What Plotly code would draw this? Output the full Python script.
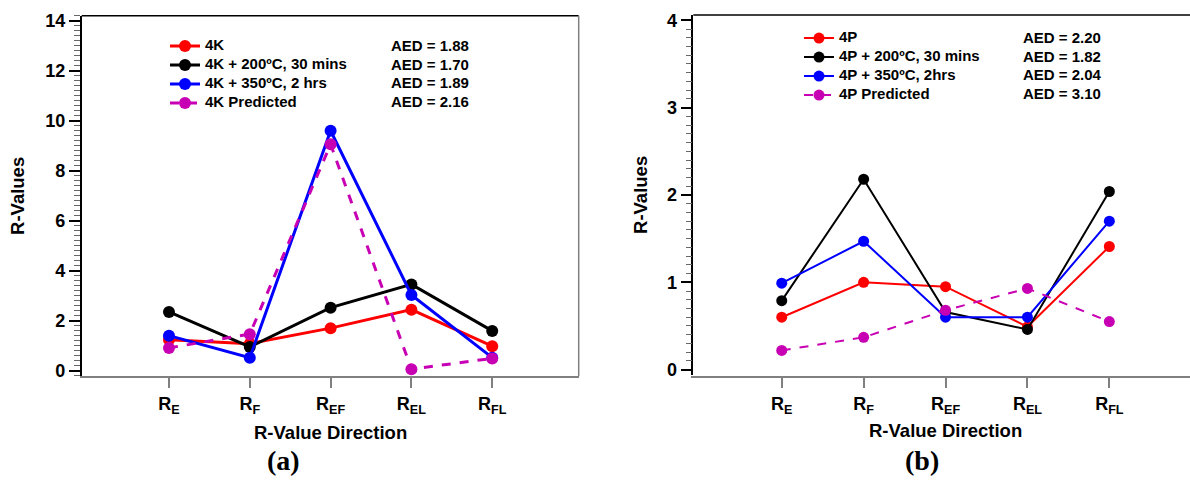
import plotly.graph_objects as go

categories = ["R<sub>E</sub>", "R<sub>F</sub>", "R<sub>EF</sub>", "R<sub>EL</sub>", "R<sub>FL</sub>"]
tick_text = ["<b>R<sub>E</sub></b>", "<b>R<sub>F</sub></b>", "<b>R<sub>EF</sub></b>",
             "<b>R<sub>EL</sub></b>", "<b>R<sub>FL</sub></b>"]

# Panel (a)
names_a = ["4K", "4K + 200ºC, 30 mins", "4K + 350ºC, 2 hrs", "4K Predicted"]
aed_a = ["AED = 1.88", "AED = 1.70", "AED = 1.89", "AED = 2.16"]
k_4k = [1.24, 1.08, 1.70, 2.44, 0.98]
k_200 = [2.35, 0.95, 2.52, 3.45, 1.59]
k_350 = [1.40, 0.52, 9.60, 3.03, 0.52]
k_pred = [0.91, 1.46, 9.06, 0.06, 0.49]
yticks_a = [0, 2, 4, 6, 8, 10, 12, 14]

# Panel (b)
names_b = ["4P", "4P + 200ºC, 30 mins", "4P + 350ºC, 2hrs", "4P Predicted"]
aed_b = ["AED = 2.20", "AED = 1.82", "AED = 2.04", "AED = 3.10"]
p_4p = [0.60, 1.00, 0.95, 0.49, 1.41]
p_200 = [0.79, 2.18, 0.66, 0.46, 2.04]
p_350 = [0.99, 1.47, 0.60, 0.60, 1.70]
p_pred = [0.22, 0.37, 0.68, 0.93, 0.55]
yticks_b = [0, 1, 2, 3, 4]

colors = ["#FF0000", "#000000", "#0000FF", "#C800B4"]
FONT = "Arial, Liberation Sans, sans-serif"
LEG_PX = 15

fig = go.Figure()

def add_panel(series, names, xa, ya, legend, width, msize):
    for i, (vals, nm) in enumerate(zip(series, names)):
        dash = "dash" if i == 3 else "solid"
        fig.add_trace(go.Scatter(
            x=categories, y=vals,
            name=f'<span style="font-size:{LEG_PX}px"><b>{nm}</b></span>',
            mode="lines+markers",
            line=dict(color=colors[i], width=width, dash=dash),
            marker=dict(color=colors[i], size=msize),
            xaxis=xa, yaxis=ya, legend=legend, showlegend=True,
        ))

add_panel([k_4k, k_200, k_350, k_pred], names_a, "x", "y", "legend", 3, 12)
add_panel([p_4p, p_200, p_350, p_pred], names_b, "x2", "y2", "legend2", 2, 11)

W, H = 1190, 482
tickfont = dict(family=FONT, size=18, color="black")

def xax(domain, rng):
    return dict(domain=domain, type="category", range=rng, showgrid=False, zeroline=False,
                showline=True, linecolor="#808080", linewidth=2, ticks="outside",
                ticklen=10, tickwidth=2, tickcolor="#808080", tickfont=tickfont,
                tickmode="array", tickvals=categories, ticktext=tick_text, mirror=False)

def yax(domain, rng, tvals, minor_dtick, anchor):
    return dict(domain=domain, range=rng, tickmode="array", tickvals=tvals,
                ticktext=[f"<b>{v}</b>" for v in tvals],
                showgrid=False, zeroline=False,
                showline=True, linecolor="black", linewidth=1.5, ticks="outside",
                ticklen=11, tickwidth=1.5, tickcolor="black", tickfont=tickfont,
                anchor=anchor,
                minor=dict(dtick=minor_dtick, tick0=0, ticks="outside", ticklen=6,
                           tickcolor="#666666", tickwidth=1, showgrid=False))

legfont = dict(family=FONT, size=10, color="black")
fig.update_layout(
    width=W, height=H,
    margin=dict(l=0, r=0, t=0, b=0),
    paper_bgcolor="white", plot_bgcolor="white",
    xaxis=xax([81.7 / W, 578.7 / W], [-1.08, 5.07]),
    yaxis=yax([1 - 379 / H, 1 - 11 / H], [-0.22, 14.2], yticks_a, 0.2, "x"),
    xaxis2=xax([693.3 / W, 1.0], [-1.08, 4.985]),
    yaxis2=yax([1 - 377.7 / H, 1 - 10.3 / H], [-0.06, 4.06], yticks_b, 0.1, "x2"),
    legend=dict(x=165 / W, y=1 - 27 / H, xanchor="left", yanchor="top",
                bgcolor="rgba(0,0,0,0)", borderwidth=0, itemwidth=30, font=legfont),
    legend2=dict(x=799 / W, y=1 - 19 / H, xanchor="left", yanchor="top",
                 bgcolor="rgba(0,0,0,0)", borderwidth=0, itemwidth=30, font=legfont),
    showlegend=True,
)

# frame lines (top and right)
fig.add_shape(type="line", xref="x domain", yref="y domain", x0=0, x1=1, y0=1, y1=1,
              line=dict(color="black", width=1.5))
fig.add_shape(type="line", xref="x domain", yref="y domain", x0=1, x1=1, y0=0, y1=1,
              line=dict(color="#808080", width=1.5))
fig.add_shape(type="line", xref="x2 domain", yref="y2 domain", x0=0, x1=1, y0=1, y1=1,
              line=dict(color="black", width=1.5))

annots = []
titlefont = dict(family=FONT, size=18.5, color="black")
annots.append(dict(text="<b>R-Value Direction</b>", x=330 / W, y=1 - 437 / H, xref="paper", yref="paper",
                   showarrow=False, xanchor="center", yanchor="middle", font=titlefont))
annots.append(dict(text="<b>R-Value Direction</b>", x=945 / W, y=1 - 435 / H, xref="paper", yref="paper",
                   showarrow=False, xanchor="center", yanchor="middle", font=titlefont))
annots.append(dict(text="<b>R-Values</b>", x=18 / W, y=1 - 195 / H, xref="paper", yref="paper",
                   showarrow=False, textangle=-90, xanchor="center", yanchor="middle", font=titlefont))
annots.append(dict(text="<b>R-Values</b>", x=641 / W, y=1 - 194 / H, xref="paper", yref="paper",
                   showarrow=False, textangle=-90, xanchor="center", yanchor="middle", font=titlefont))
labfont = dict(family="Times New Roman, Liberation Serif, serif", size=28, color="black")
annots.append(dict(text="<b>(a)</b>", x=283 / W, y=1 - 465 / H, xref="paper", yref="paper",
                   showarrow=False, xanchor="center", yanchor="middle", font=labfont))
annots.append(dict(text="<b>(b)</b>", x=922 / W, y=1 - 465 / H, xref="paper", yref="paper",
                   showarrow=False, xanchor="center", yanchor="middle", font=labfont))
aedfont = dict(family=FONT, size=LEG_PX, color="black")
for i, t in enumerate(aed_a):
    annots.append(dict(text=f"<b>{t}</b>", x=388.5 / W, y=1 - (41.5 + 19 * i) / H, xref="paper", yref="paper",
                       showarrow=False, xanchor="left", yanchor="middle", font=aedfont))
for i, t in enumerate(aed_b):
    annots.append(dict(text=f"<b>{t}</b>", x=1020.5 / W, y=1 - (33.2 + 19 * i) / H, xref="paper", yref="paper",
                       showarrow=False, xanchor="left", yanchor="middle", font=aedfont))
fig.update_layout(annotations=annots)

fig.write_html("out.html")
